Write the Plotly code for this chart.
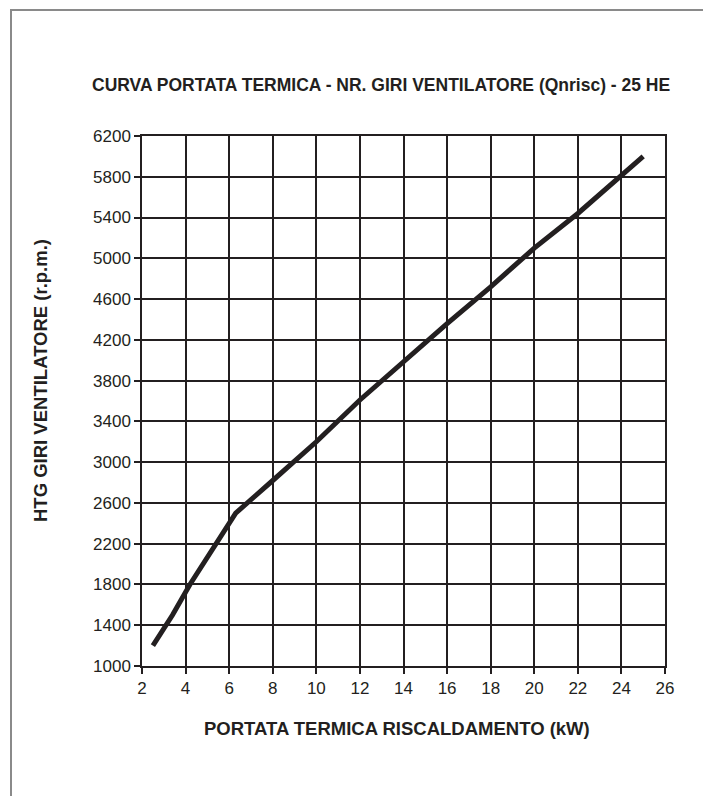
import plotly.graph_objects as go

# heat input (kW) vs fan speed (rpm)
portata_kw = [2.5, 3.4, 4.2, 5.4, 6.3, 8, 10, 12, 14, 16, 18, 20, 22, 24, 25]
giri_rpm = [1200, 1500, 1800, 2200, 2500, 2820, 3200, 3610, 3990, 4360, 4720, 5100, 5440, 5810, 6000]

x_ticks = list(range(2, 27, 2))
y_ticks = list(range(1000, 6201, 400))

ink = "#231f20"
W, H = 703, 796
L, T = 142, 136
pw, ph = 523, 530
R, B = W - L - pw, H - T - ph

def px(x):
    return (x - L) / pw

def py(y):
    return (H - B - y) / ph

fig = go.Figure()
fig.add_trace(go.Scatter(
    x=portata_kw, y=giri_rpm, mode="lines",
    line=dict(color=ink, width=5),
    hoverinfo="skip"))

axis_common = dict(
    showgrid=True, gridcolor=ink, gridwidth=1.5,
    showline=True, linecolor=ink, linewidth=1.5, mirror=True,
    ticks="outside", ticklen=6, tickcolor=ink, tickwidth=1.5,
    zeroline=False,
    tickfont=dict(family="Liberation Sans, Arial", size=17, color=ink))

fig.update_xaxes(range=[2, 26], tickvals=x_ticks, **axis_common)
fig.update_yaxes(range=[1000, 6200], tickvals=y_ticks, **axis_common)

fig.update_layout(
    width=W, height=H,
    margin=dict(l=L, r=R, t=T, b=B),
    plot_bgcolor="white", paper_bgcolor="white",
    showlegend=False,
    shapes=[dict(type="rect", xref="paper", yref="paper",
                 x0=px(11), x1=px(760), y0=py(850), y1=py(10),
                 line=dict(color="#8a8a8a", width=2), layer="below")],
    annotations=[
        dict(text="<b>CURVA PORTATA TERMICA - NR. GIRI VENTILATORE (Qnrisc) - 25 HE</b>",
             xref="paper", yref="paper", x=px(381), y=py(85),
             showarrow=False, xanchor="center", yanchor="middle",
             font=dict(family="Liberation Sans, Arial", size=17.5, color=ink)),
        dict(text="<b>PORTATA TERMICA RISCALDAMENTO (kW)</b>",
             xref="paper", yref="paper", x=px(397), y=py(728),
             showarrow=False, xanchor="center", yanchor="middle",
             font=dict(family="Liberation Sans, Arial", size=18.5, color=ink)),
        dict(text="<b>HTG GIRI VENTILATORE (r.p.m.)</b>",
             xref="paper", yref="paper", x=px(40), y=py(381),
             showarrow=False, xanchor="center", yanchor="middle", textangle=-90,
             font=dict(family="Liberation Sans, Arial", size=18.5, color=ink)),
    ])

# drop the default page margin so the figure fills the window exactly
fig.write_html("out.html",
               config={"displayModeBar": False},
               post_script="document.body.style.margin='0';"
                           "document.documentElement.style.overflow='hidden';")
